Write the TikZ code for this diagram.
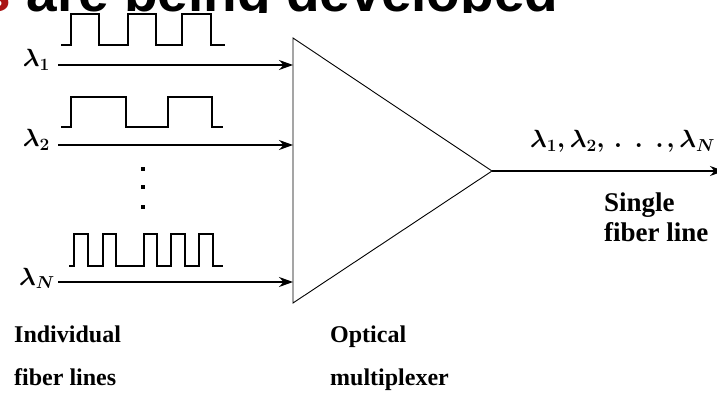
\documentclass[tikz,border=0pt]{standalone}
\usepackage{fontspec}
\setmainfont{Liberation Serif}
\newfontfamily\titlefont{Liberation Sans}
\usetikzlibrary{arrows.meta}
\definecolor{titlered}{RGB}{170,20,20}
\begin{document}
\begin{tikzpicture}[x=1pt,y=-1pt,
  wave/.style={line width=2.4pt, line join=miter},
  feed/.style={line width=1.4pt, -{Stealth[length=14pt,width=10pt]}},
  muxline/.style={line width=0.9pt, line join=miter},
  lbl/.style={font=\bfseries\fontsize{24}{43}\selectfont, align=left, inner sep=0pt},
  lblr/.style={font=\bfseries\fontsize{27}{30}\selectfont, align=left, inner sep=0pt},
  lam/.style={font=\fontsize{26}{30}\selectfont\boldmath, inner sep=0pt},
  dotsq/.style={fill=black, inner sep=0pt, minimum size=3.6pt, draw=none}
]
\useasboundingbox (0,0) rectangle (717,395);
% clipped slide title
\begin{scope}
\clip (0,0) rectangle (717,12.5);
\node[anchor=base west, inner sep=0pt, font=\titlefont\bfseries\fontsize{55}{55}\selectfont] (title) at (-19.5,12) {\textcolor{titlered}{s} are being developed};
\end{scope}
% multiplexer
\coordinate (mt) at (293,38);
\coordinate (mb) at (293,303);
\coordinate (ma) at (492,171);
\draw[muxline] (mt) -- (ma) -- (mb) -- cycle;
% inputs
\node[lam, anchor=base east] (l1) at (50,67) {$\lambda_1$};
\node[lam, anchor=base east] (l2) at (50,147) {$\lambda_2$};
\node[lam, anchor=base east] (lN) at (55,285) {$\lambda_N$};
\coordinate (s1) at (58,65);
\coordinate (s2) at (58,145);
\coordinate (sN) at (58,282);
\draw[feed] (s1) -- (s1 -| mt);
\draw[feed] (s2) -- (s2 -| mt);
\draw[feed] (sN) -- (sN -| mt);
% waveforms
\draw[wave] (61,45) -- (71,45) -- (71,14) -- (99,14) -- (99,45) -- (128,45) -- (128,14) -- (156,14) -- (156,45) -- (182,45) -- (182,14) -- (211,14) -- (211,45) -- (225,45);
\draw[wave] (61,127) -- (71,127) -- (71,97) -- (126,97) -- (126,127) -- (168,127) -- (168,97) -- (212,97) -- (212,127) -- (223,127);
\draw[wave] (69,266) -- (74,266) -- (74,234) -- (88,234) -- (88,266) -- (103,266) -- (103,234) -- (116,234) -- (116,266) -- (144,266) -- (144,234) -- (157,234) -- (157,266) -- (171,266) -- (171,234) -- (185,234) -- (185,266) -- (199,266) -- (199,234) -- (213,234) -- (213,266) -- (223,266);
% vertical dots
\node[dotsq] (d1) at (143,169) {};
\node[dotsq] (d2) at (143,187) {};
\node[dotsq] (d3) at (143,207) {};
% output
\coordinate (oe) at (724,171);
\draw[feed] (ma) -- (oe);
\node[lam, anchor=base west] (lout) at (530,148) {$\lambda_1,\lambda_2,\mkern3mu.\mkern8mu.\mkern8mu.\mkern2mu,\lambda_N$};
\node[lblr, anchor=base west] (single) at (604,242) {Single\\fiber line};
% bottom labels
\node[lbl, anchor=base west] (indiv) at (14,385) {Individual\\fiber lines};
\node[lbl, anchor=base west] (optic) at (330,385) {Optical\\multiplexer};
\end{tikzpicture}
\end{document}
